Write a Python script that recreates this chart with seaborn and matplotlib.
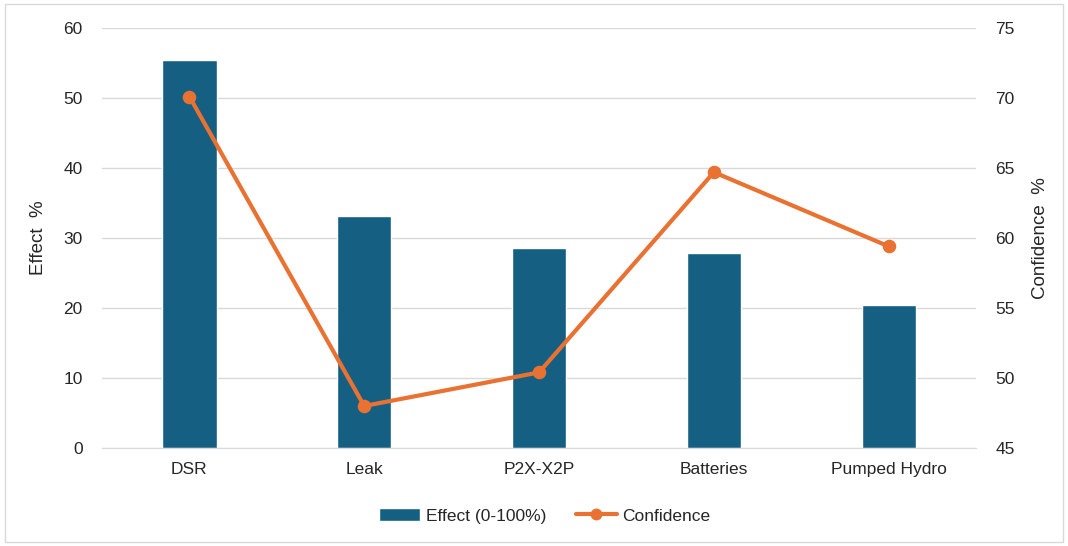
import pandas as pd
import seaborn as sns
import matplotlib.pyplot as plt
from matplotlib.patches import Patch, Rectangle
from matplotlib.lines import Line2D

# valores
categories = ['DSR', 'Leak', 'P2X-X2P', 'Batteries', 'Pumped Hydro']
effect = [55.5, 33.1, 28.6, 27.9, 20.4]
confidence = [70.1, 48.0, 50.4, 64.7, 59.4]

bar_color = '#156082'
line_color = '#E97132'
grid_color = '#D9D9D9'
text_color = '#262626'

df = pd.DataFrame({'category': categories, 'effect': effect, 'confidence': confidence})

sns.set_style('white')
plt.rcParams['font.family'] = ['Liberation Sans', 'DejaVu Sans']
plt.rcParams['font.size'] = 12.5

fig = plt.figure(figsize=(10.68, 5.46), dpi=100)
ax = fig.add_axes([0.0955, 0.1795, 0.8185, 0.7692])

sns.barplot(data=df, x='category', y='effect', color=bar_color, saturation=1,
            width=0.31, ax=ax, zorder=2)
ax.set_ylim(0, 60)
ax.set_yticks(range(0, 61, 10))
ax.grid(axis='y', color=grid_color, linewidth=1, zorder=0)
ax.set_axisbelow(True)
ax.set_xlabel('')
ax.set_ylabel('Effect  %', color=text_color, fontsize=13.5, labelpad=12)
for s in ax.spines.values():
    s.set_visible(False)
ax.spines['bottom'].set_visible(True)
ax.spines['bottom'].set_color(grid_color)
ax.tick_params(length=0, colors=text_color, labelsize=12.5)
ax.tick_params(axis='x', pad=10)
ax.tick_params(axis='y', pad=14)

ax2 = ax.twinx()
sns.pointplot(data=df, x='category', y='confidence', color=line_color,
              markers='o', markersize=7.5, linewidth=3, ax=ax2)
ax2.set_ylim(45, 75)
ax2.set_yticks(range(45, 76, 5))
ax2.set_xlim(ax.get_xlim())
ax2.set_ylabel('Confidence  %', color=text_color, fontsize=13.5, labelpad=12)
for s in ax2.spines.values():
    s.set_visible(False)
ax2.tick_params(length=0, colors=text_color, labelsize=12.5, pad=14)
ax2.grid(False)

handles = [Patch(facecolor=bar_color, label='Effect (0-100%)'),
           Line2D([0], [0], color=line_color, linewidth=3, marker='o', markersize=7.5,
                  label='Confidence')]
fig.legend(handles=handles, loc='center', bbox_to_anchor=(0.51, 0.055), ncol=2,
           frameon=False, fontsize=12.5, handlelength=2.4, columnspacing=1.7,
           handletextpad=0.3, labelcolor=text_color)

# borda da area do grafico
fig.patches.append(Rectangle((0.005, 0.008), 0.99, 0.984, transform=fig.transFigure,
                             fill=False, edgecolor=grid_color, linewidth=1))

fig.savefig('out.png', dpi=100)
